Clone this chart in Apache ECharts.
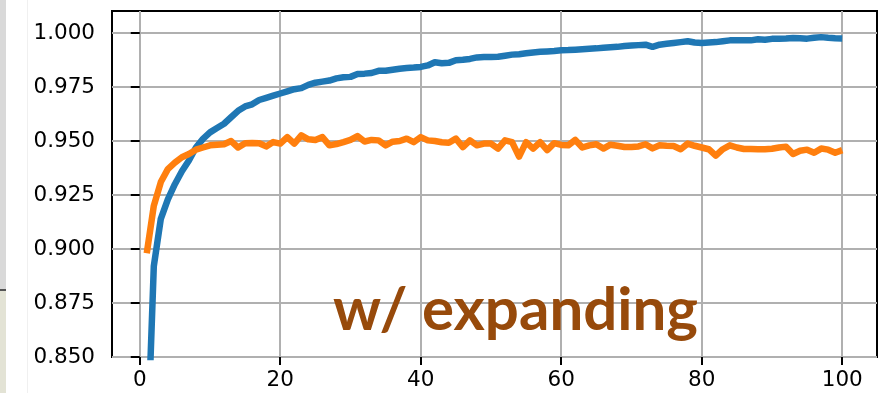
<!DOCTYPE html>
<html>
<head>
<meta charset="utf-8">
<script src="https://cdn.jsdelivr.net/npm/echarts@6/dist/echarts.min.js"></script>
<style>
  html, body { margin: 0; padding: 0; background: #fff; }
  #chart { width: 883px; height: 393px; }
</style>
</head>
<body>
<div id="chart"></div>
<script>
// Epoch index (1..100)
const epochs = Array.from({ length: 100 }, (_, i) => i + 1);

// Training accuracy (blue)
const trainAcc = [
  0.800, 0.892, 0.914, 0.923, 0.930, 0.936, 0.941, 0.947, 0.951, 0.954,
  0.956, 0.958, 0.961, 0.964, 0.966, 0.967, 0.969, 0.970, 0.971, 0.972,
  0.973, 0.974, 0.9745, 0.976, 0.977, 0.9775, 0.978, 0.979, 0.9795, 0.9797,
  0.981, 0.9812, 0.9815, 0.9825, 0.9825, 0.983, 0.9835, 0.9838, 0.984, 0.9843,
  0.985, 0.9865, 0.986, 0.9862, 0.9874, 0.9876, 0.988, 0.9887, 0.9889, 0.9889,
  0.989, 0.9895, 0.990, 0.9902, 0.9906, 0.991, 0.9913, 0.9915, 0.9917, 0.992,
  0.9921, 0.9923, 0.9925, 0.9927, 0.9929, 0.9932, 0.9934, 0.9936, 0.994, 0.9942,
  0.9944, 0.9946, 0.9936, 0.9946, 0.995, 0.9954, 0.9958, 0.9962, 0.9956, 0.9954,
  0.9956, 0.9958, 0.9962, 0.9966, 0.9966, 0.9966, 0.9966, 0.9971, 0.9969, 0.9973,
  0.9974, 0.9975, 0.9977, 0.9976, 0.9974, 0.9978, 0.9981, 0.9978, 0.9976, 0.9975
];

// Validation accuracy (orange)
const valAcc = [
  0.898, 0.920, 0.931, 0.937, 0.940, 0.9425, 0.944, 0.946, 0.947, 0.948,
  0.9483, 0.9485, 0.950, 0.947, 0.949, 0.9491, 0.949, 0.9475, 0.9495, 0.9488,
  0.9518, 0.9488, 0.9526, 0.9508, 0.9505, 0.9518, 0.948, 0.9486, 0.9495, 0.9505,
  0.9523, 0.9498, 0.9505, 0.9503, 0.948, 0.9497, 0.950, 0.9511, 0.9495, 0.9518,
  0.9503, 0.950, 0.9494, 0.9492, 0.9511, 0.9472, 0.9503, 0.948, 0.9488, 0.9488,
  0.9465, 0.9503, 0.9495, 0.9428, 0.9495, 0.9465, 0.9495, 0.9458, 0.949, 0.9482,
  0.948, 0.9505, 0.947, 0.948, 0.9485, 0.9465, 0.9483, 0.9478, 0.9472, 0.9472,
  0.9475, 0.9485, 0.9466, 0.948, 0.9478, 0.9477, 0.9462, 0.9488, 0.9478, 0.947,
  0.9462, 0.9432, 0.9462, 0.948, 0.947, 0.9463, 0.9463, 0.9462, 0.9462, 0.9464,
  0.947, 0.9474, 0.944, 0.9455, 0.946, 0.9446, 0.9465, 0.946, 0.9446, 0.9458
];

// Tick positions
const xTicks = [0, 20, 40, 60, 80, 100];
const yTicks = [0.850, 0.875, 0.900, 0.925, 0.950, 0.975, 1.000];

const caption = 'w/ expanding';

const pair = (xs, ys) => xs.map((x, i) => [x, ys[i]]);

const chart = echarts.init(document.getElementById('chart'), null, { renderer: 'canvas' });

const tickFont = { fontFamily: 'DejaVu Sans', fontSize: 21.5, color: '#000' };

chart.setOption({
  animation: false,
  backgroundColor: '#fff',
  grid: {
    left: 112, top: 11, width: 765, height: 346,
    show: true, borderColor: '#000', borderWidth: 2, backgroundColor: 'transparent',
    containLabel: false
  },
  xAxis: {
    type: 'value',
    min: -3.95, max: 104.95,
    axisLine: { show: false },
    axisTick: { show: true, length: 8, lineStyle: { color: '#000', width: 2 }, customValues: xTicks },
    axisLabel: Object.assign({ margin: 12, customValues: xTicks, formatter: v => String(Math.round(v)) }, tickFont),
    splitLine: { show: true, lineStyle: { color: '#b0b0b0', width: 2 } }
  },
  yAxis: {
    type: 'value',
    min: 0.85, max: 1.0102,
    axisLine: { show: false },
    axisTick: { show: true, length: 9, lineStyle: { color: '#000', width: 2 }, customValues: yTicks },
    axisLabel: Object.assign({ margin: 17, customValues: yTicks, formatter: v => v.toFixed(3) }, tickFont),
    splitLine: { show: true, lineStyle: { color: '#b0b0b0', width: 2 } }
  },
  series: [
    {
      name: 'train', type: 'line', data: pair(epochs, trainAcc),
      showSymbol: false, clip: true, z: 3,
      lineStyle: { color: '#1f77b4', width: 6.5, join: 'round' }
    },
    {
      name: 'val', type: 'line', data: pair(epochs, valAcc),
      showSymbol: false, clip: true, z: 4,
      lineStyle: { color: '#ff7f0e', width: 6.5, join: 'round' }
    }
  ],
  graphic: [
    // left margin strip
    { type: 'rect', shape: { x: 0, y: 0, width: 6, height: 290 }, style: { fill: '#d9d9d9' }, silent: true },
    { type: 'rect', shape: { x: 0, y: 290, width: 6, height: 103 }, style: { fill: '#e3e3d5' }, silent: true },
    { type: 'rect', shape: { x: 0, y: 289, width: 6, height: 2 }, style: { fill: '#555' }, silent: true },
    { type: 'rect', shape: { x: 27, y: 0, width: 1, height: 393 }, style: { fill: '#f0f0f0' }, silent: true },
    {
      type: 'text', x: 333, y: 281, z: 10, silent: true,
      style: {
        text: caption, fill: '#974a0b',
        font: 'bold 60px Lato', verticalAlign: 'top', align: 'left'
      }
    }
  ]
});
</script>
</body>
</html>
